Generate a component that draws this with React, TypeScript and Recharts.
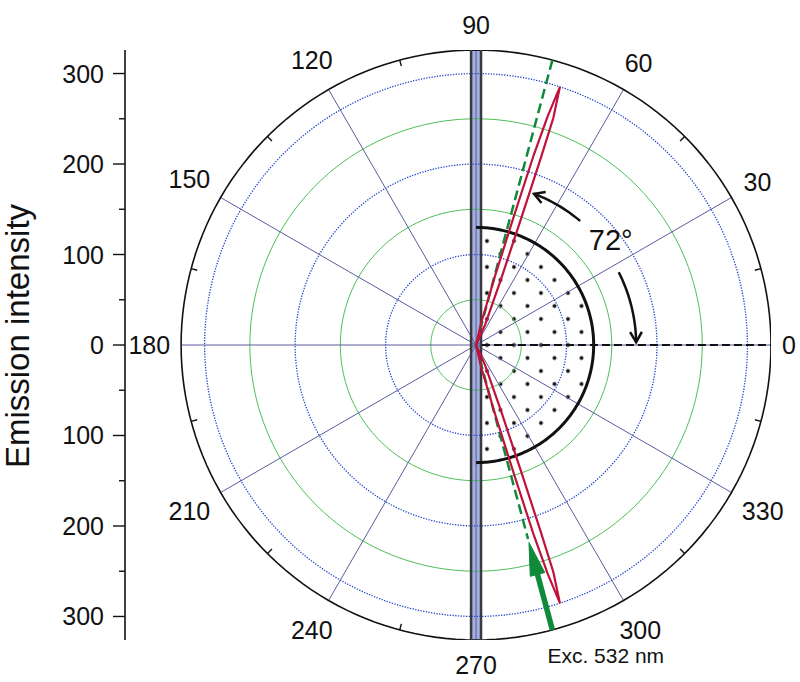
import React from 'react';
import { ComposedChart, Line, Area, Scatter, XAxis, YAxis, ReferenceDot } from 'recharts';

// ---------------- data ----------------
const angleLabels = [0, 30, 60, 90, 120, 150, 180, 210, 240, 270, 300, 330];
const spokeAngles = [0, 30, 60, 90, 120, 150, 180, 210, 240, 270, 300, 330];
const minorTickAngles = [15, 45, 75, 105, 135, 165, 195, 225, 255, 285, 315, 345];
const greenRingRadii = [50, 150, 250];
const blueRingRadii = [100, 200, 300];
const outerRadius = 326;
const yTickValues = [-300, -250, -200, -150, -100, -50, 0, 50, 100, 150, 200, 250, 300];

// emission lobes: [angle (deg), intensity]
const upperLobe: [number, number][] = [
  [72, 0], [77, 25], [74.6, 80], [73.6, 150], [73.1, 220], [72.6, 265], [72, 300],
  [71.2, 265], [70.9, 220], [70.4, 150], [69.3, 80], [66, 25], [72, 0],
];
const lowerLobe: [number, number][] = [
  [-72, 0], [-77, 25], [-74.6, 80], [-73.6, 150], [-73.1, 220], [-72.6, 265], [-72, 300],
  [-71.2, 265], [-70.9, 220], [-70.4, 150], [-69.3, 80], [-66, 25], [-72, 0],
];
const halfDisk = { from: -90, to: 90, r: 130 };
const wireHalfWidth = 5.5;
const referenceAngle = 0;
const greenRays = [
  { angle: 75, r0: 0, r1: 326 },
  { angle: -75, r0: 0, r1: 222 },
];
const excitation = { angle: -75, rFrom: 326, rTip: 226, label: 'Exc. 532 nm' };
const arcArrows = [
  { r: 179, from: 50, to: 69 },
  { r: 177, from: 27, to: 1 },
];
const rotationLabel = { text: '72°', angle: 38, r: 189 };
const yAxisTitle = 'Emission intensity';

// ---------------- helpers ----------------
const FONT = "'Liberation Sans', Arial, Helvetica, sans-serif";
const rad = (d: number) => (d * Math.PI) / 180;
const pt = (a: number, r: number) => ({ x: r * Math.cos(rad(a)), y: r * Math.sin(rad(a)) });
const arcPts = (r: number, from: number, to: number, step = 1) => {
  const n = Math.max(1, Math.ceil(Math.abs(to - from) / step));
  const out = [] as { x: number; y: number }[];
  for (let i = 0; i <= n; i++) out.push(pt(from + ((to - from) * i) / n, r));
  return out;
};
const ray = (a: number, r0: number, r1: number) => [pt(a, r0), pt(a, r1)];
const chevron = (r: number, angle: number, dirSign: number, L = 13, spread = 30) => {
  const T = pt(angle, r);
  const t = rad(angle);
  const dx = -Math.sin(t) * dirSign;
  const dy = Math.cos(t) * dirSign;
  const base = Math.atan2(dy, dx);
  const arm = (s: number) => ({
    x: T.x - L * Math.cos(base + rad(s)),
    y: T.y - L * Math.sin(base + rad(s)),
  });
  return [arm(spread), T, arm(-spread)];
};

const circleData = (r: number) => arcPts(r, 0, 360, 2);
const lobeData = (lobe: [number, number][]) => lobe.map(([a, r]) => pt(a, r));
const halfDiskFill = (() => {
  const out = [] as { x: number; range: [number, number] }[];
  const R = halfDisk.r;
  for (let x = 0; x <= R; x += 1) {
    const h = Math.sqrt(Math.max(0, R * R - x * x));
    out.push({ x, range: [-h, h] });
  }
  return out;
})();
const wireFill = [
  { x: -wireHalfWidth, range: [-outerRadius, outerRadius] },
  { x: wireHalfWidth, range: [-outerRadius, outerRadius] },
];

// ---------------- renderers ----------------
const angleLabelShape = (angle: number) => (props: any) => {
  const { cx, cy } = props;
  const a = rad(angle);
  const c = Math.cos(a);
  const s = Math.sin(a);
  const w = String(angle).length * 13.9;
  const h = 18;
  const d = 11 + 5 * Math.abs(s) + (Math.abs(c) * w) / 2 + (Math.abs(s) * h) / 2;
  return (
    <text x={cx + d * c} y={cy - d * s} dy="0.36em" textAnchor="middle" fontSize={25} fontFamily={FONT} fill="#111">
      {angle}
    </text>
  );
};

const renderYTick = (props: any) => {
  const { x, y, payload } = props;
  const v = payload.value;
  const major = v % 100 === 0;
  return (
    <g>
      <line x1={x - (major ? 12 : 6)} x2={x} y1={y} y2={y} stroke="#111" strokeWidth={1.4} />
      {major && (
        <text x={x - 21} y={y} dy="0.36em" textAnchor="end" fontSize={25} fontFamily={FONT} fill="#111">
          {Math.abs(v)}
        </text>
      )}
    </g>
  );
};

const renderArrowHead = (props: any) => {
  const { cx, cy } = props;
  const a = rad(excitation.angle);
  const ux = -Math.cos(a);
  const uy = Math.sin(a);
  const len = 33;
  const hw = 7.5;
  const bx = cx - len * ux;
  const by = cy - len * uy;
  const px = -uy;
  const py = ux;
  const d = `M${cx},${cy} L${bx + hw * px},${by + hw * py} L${bx - hw * px},${by - hw * py} Z`;
  return <path d={d} fill="#0e8a3a" stroke="#0e8a3a" strokeWidth={1} />;
};

const renderExcLabel = (props: any) => {
  const { cx, cy } = props;
  return (
    <text x={cx - 5} y={cy + 33} fontSize={21} fontFamily={FONT} fill="#111">
      {excitation.label}
    </text>
  );
};

const renderRotationLabel = (props: any) => {
  const { cx, cy } = props;
  return (
    <text x={cx} y={cy} dy="0.36em" textAnchor="middle" fontSize={29} fontFamily={FONT} fill="#111">
      {rotationLabel.text}
    </text>
  );
};

const renderYTitle = () => (
  <text x={29} y={336} transform="rotate(-90 29 336)" textAnchor="middle" fontSize={33} fontFamily={FONT} fill="#111">
    {yAxisTitle}
  </text>
);

const lineCommon = {
  dataKey: 'y',
  dot: false,
  activeDot: false,
  isAnimationActive: false,
  type: 'linear' as const,
  legendType: 'none' as const,
};

export default function App() {
  const excTip = pt(excitation.angle, excitation.rTip);
  const excFoot = pt(excitation.angle, excitation.rFrom);
  const rotPos = pt(rotationLabel.angle, rotationLabel.r);
  return (
    <div style={{ position: 'absolute', left: 0, top: 0, width: 800, height: 682, background: '#fff' }}>
      <svg width={0} height={0} style={{ position: 'absolute' }}>
        <defs>
          <pattern id="dotPattern" patternUnits="userSpaceOnUse" x={480.25} y={338.5} width={27} height={26}>
            <circle cx={6.75} cy={6.5} r={1.9} fill="#111" />
            <circle cx={20.25} cy={19.5} r={1.9} fill="#111" />
          </pattern>
        </defs>
      </svg>
      <ComposedChart width={800} height={682} margin={{ top: 50, right: 29, bottom: 42, left: 0 }}>
        <XAxis type="number" dataKey="x" domain={[-388, 326]} allowDataOverflow hide />
        <YAxis
          type="number"
          domain={[-326, 326]}
          allowDataOverflow
          ticks={yTickValues}
          interval={0}
          width={125}
          tickSize={0}
          tickMargin={0}
          tickLine={false}
          axisLine={{ stroke: '#111', strokeWidth: 1.6 }}
          tick={renderYTick}
          label={{ content: renderYTitle }}
        />

        {/* grid rings */}
        {greenRingRadii.map((r) => (
          <Line key={`g${r}`} {...lineCommon} data={circleData(r)} stroke="#4cbf55" strokeWidth={1} />
        ))}
        {blueRingRadii.map((r) => (
          <Line key={`b${r}`} {...lineCommon} data={circleData(r)} stroke="#2144cc" strokeWidth={1.3} strokeDasharray="1.3 1.4" />
        ))}
        {/* spokes */}
        {spokeAngles.map((a) => (
          <Line key={`s${a}`} {...lineCommon} data={ray(a, 0, outerRadius)} stroke="#5a5c9e" strokeWidth={1} />
        ))}
        {/* outer circle & ticks */}
        <Line {...lineCommon} data={circleData(outerRadius)} stroke="#111" strokeWidth={1.6} />
        {minorTickAngles.map((a) => (
          <Line key={`t${a}`} {...lineCommon} data={ray(a, outerRadius - 7, outerRadius)} stroke="#111" strokeWidth={1.4} />
        ))}

        {/* dotted half disk */}
        <Area
          data={halfDiskFill}
          dataKey="range"
          type="linear"
          stroke="none"
          fill="url(#dotPattern)"
          fillOpacity={1}
          dot={false}
          activeDot={false}
          isAnimationActive={false}
          legendType="none"
        />

        {/* wire */}
        <Area
          data={wireFill}
          dataKey="range"
          type="linear"
          stroke="none"
          fill="#a3b0dc"
          fillOpacity={1}
          dot={false}
          activeDot={false}
          isAnimationActive={false}
          legendType="none"
        />
        <Line {...lineCommon} data={[{ x: -wireHalfWidth, y: -outerRadius }, { x: -wireHalfWidth, y: outerRadius }]} stroke="#3a3a44" strokeWidth={2.5} />
        <Line {...lineCommon} data={[{ x: wireHalfWidth, y: -outerRadius }, { x: wireHalfWidth, y: outerRadius }]} stroke="#3a3a44" strokeWidth={2.5} />

        {/* reference (0 deg) dashed line */}
        <Line {...lineCommon} data={ray(referenceAngle, wireHalfWidth + 1, outerRadius)} stroke="#111" strokeWidth={2} strokeDasharray="8 4" />

        {/* half disk outline */}
        <Line {...lineCommon} data={arcPts(halfDisk.r, halfDisk.to, halfDisk.from, 1)} stroke="#111" strokeWidth={3} />

        {/* green dashed rays */}
        {greenRays.map((g, i) => (
          <Line key={`gr${i}`} {...lineCommon} data={ray(g.angle, g.r0, g.r1)} stroke="#0e8a3a" strokeWidth={2.5} strokeDasharray="10 5" />
        ))}

        {/* emission lobes */}
        <Line {...lineCommon} data={lobeData(upperLobe)} stroke="#c0123a" strokeWidth={2.2} />
        <Line {...lineCommon} data={lobeData(lowerLobe)} stroke="#c0123a" strokeWidth={2.2} />

        {/* excitation arrow */}
        <Line {...lineCommon} data={ray(excitation.angle, excitation.rFrom, excitation.rTip + 30)} stroke="#0e8a3a" strokeWidth={5.5} />
        <Scatter data={[excTip]} dataKey="y" shape={renderArrowHead} isAnimationActive={false} legendType="none" />

        {/* 72 deg arcs */}
        {arcArrows.map((arc, i) => (
          <Line key={`arc${i}`} {...lineCommon} data={arcPts(arc.r, arc.from, arc.to, 1)} stroke="#111" strokeWidth={2.5} />
        ))}
        {arcArrows.map((arc, i) => (
          <Line
            key={`chev${i}`}
            {...lineCommon}
            data={chevron(arc.r, arc.to, arc.to > arc.from ? 1 : -1)}
            stroke="#111"
            strokeWidth={2.5}
          />
        ))}
        <ReferenceDot x={rotPos.x} y={rotPos.y} r={1} ifOverflow="visible" shape={renderRotationLabel} />
        <ReferenceDot x={excFoot.x} y={excFoot.y} r={1} ifOverflow="visible" shape={renderExcLabel} />

        {/* angle labels */}
        {angleLabels.map((a) => {
          const p = pt(a, outerRadius);
          return <ReferenceDot key={`al${a}`} x={p.x} y={p.y} r={1} ifOverflow="visible" shape={angleLabelShape(a)} />;
        })}
      </ComposedChart>
    </div>
  );
}
